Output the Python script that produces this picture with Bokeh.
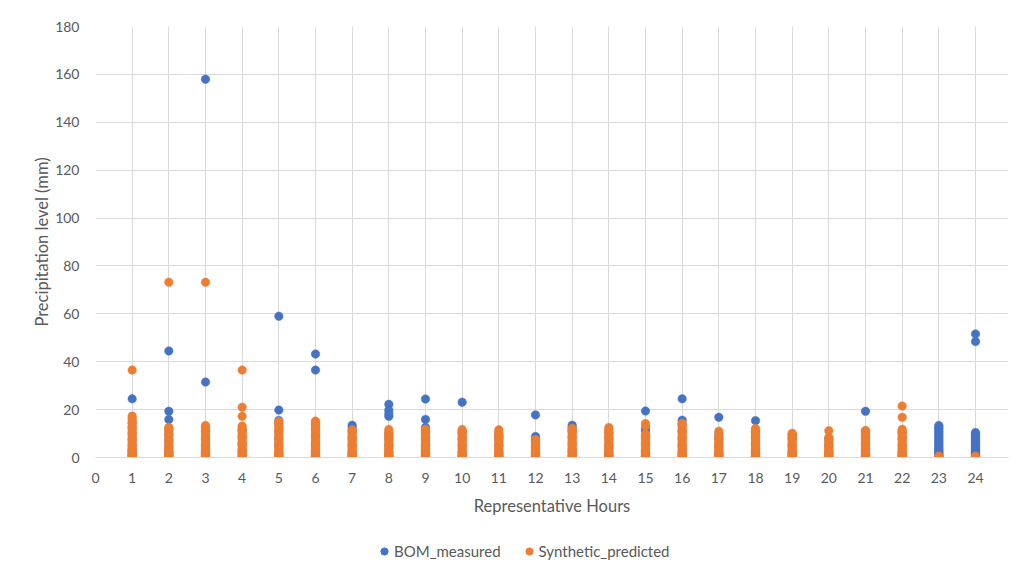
from bokeh.plotting import figure
from bokeh.layouts import column
from bokeh.models import ColumnDataSource, FixedTicker, Legend, LegendItem, Range1d
from bokeh.embed import file_html
from bokeh.resources import INLINE

# ---------------- data ----------------
hours = list(range(1, 25))
x_tick_labels = list(range(0, 25))
y_ticks = list(range(0, 181, 20))

bom_by_hour = [
    [0.2, 1.5, 3, 5, 7.5, 10, 12.5, 14.5, 24.5],
    [0.3, 2, 4.5, 7, 9.5, 12, 15.9, 19.3, 44.5],
    [0.2, 2, 5, 8, 11, 31.5, 158],
    [0.3, 2.5, 5.5, 8.5, 11.5],
    [0.2, 2, 5, 8, 11, 14, 15.5, 19.8, 59],
    [0.3, 2.5, 5.5, 9, 12, 14, 36.5, 43.2],
    [0.2, 2, 5, 8, 11, 12.5, 13.5],
    [0.3, 2, 5, 8, 9.6, 17.2, 18.2, 19.7, 22.2],
    [0.2, 2.5, 5, 8, 10.5, 12.5, 15.9, 24.4],
    [0.3, 2, 5, 8, 10.5, 23.1],
    [0.2, 2, 5, 8, 9.2],
    [0.2, 2, 4.5, 7, 8.8, 17.8],
    [0.3, 2.5, 5.5, 8.5, 11, 12.5, 13.5],
    [0.2, 2, 5, 8, 10.5],
    [0.3, 2.5, 5.5, 8.5, 11, 12, 19.4],
    [0.2, 2, 5, 8, 11, 14, 15.6, 24.5],
    [0.3, 2, 5, 8, 10, 16.8],
    [0.2, 2.5, 5.5, 8.5, 10.5, 15.4],
    [0.3, 2, 5, 8, 9.5],
    [0.2, 2, 5, 8],
    [0.3, 2.5, 5.5, 8.5, 11, 19.3],
    [0.2, 2, 5, 8, 10.5],
    [0, 0.4, 0.8, 1.2, 1.7, 2.2, 2.7, 3.3, 3.9, 4.5, 5.2, 5.9, 6.6, 7.3, 8, 8.7,
     9.4, 10.1, 10.8, 11.5, 12.2, 12.8, 13.4],
    [0, 0.4, 0.8, 1.2, 1.7, 2.2, 2.7, 3.3, 3.9, 4.5, 5.1, 5.7, 6.3, 6.9, 7.5, 8.1,
     8.7, 9.3, 9.9, 10.4, 48.4, 51.6],
]

syn_by_hour = [
    [0, 0.2, 0.5, 0.8, 1.2, 1.6, 2, 2.5, 3, 3.6, 4.2, 5, 5.8, 6.5, 7.4, 8.2, 9, 10,
     11, 12, 13, 14.2, 15.5, 16.4, 17.3, 36.5],
    [0, 0.3, 0.6, 1, 1.4, 1.9, 2.4, 3, 3.7, 4.4, 5.2, 6, 6.9, 7.8, 8.6, 9.5, 10.4,
     11.2, 12, 12.6, 73.2],
    [0, 0.2, 0.5, 0.9, 1.3, 1.8, 2.3, 3, 3.6, 4.3, 5, 5.8, 6.6, 7.5, 8.3, 9.2, 10,
     10.9, 11.8, 12.6, 13.4, 73.2],
    [0, 0.3, 0.7, 1.1, 1.6, 2.1, 2.7, 3.3, 4, 4.8, 5.6, 6.4, 7.3, 8.2, 9, 9.9, 10.8,
     11.6, 12.4, 13.2, 17.2, 21, 36.5],
    [0, 0.2, 0.5, 0.9, 1.4, 1.9, 2.5, 3.1, 3.8, 4.6, 5.4, 6.2, 7, 7.9, 8.8, 9.7,
     10.6, 11.5, 12.4, 13.3, 14.2, 15],
    [0, 0.3, 0.7, 1.1, 1.6, 2.2, 2.8, 3.5, 4.2, 5, 5.8, 6.6, 7.5, 8.4, 9.3, 10.2,
     11.1, 12, 12.9, 13.8, 14.6, 15.2],
    [0, 0.2, 0.5, 0.9, 1.3, 1.8, 2.4, 3, 3.7, 4.4, 5.2, 6, 6.8, 7.6, 8.4, 9.2, 10,
     10.8, 11.6],
    [0, 0.3, 0.6, 1, 1.5, 2, 2.6, 3.2, 3.9, 4.6, 5.4, 6.2, 7, 7.8, 8.6, 9.4, 10.2,
     11, 11.7],
    [0, 0.2, 0.5, 0.9, 1.3, 1.8, 2.3, 2.9, 3.5, 4.2, 5, 5.8, 6.6, 7.4, 8.2, 9, 9.8,
     10.6, 11.3, 11.8],
    [0, 0.3, 0.6, 1, 1.5, 2, 2.6, 3.3, 4, 4.8, 5.6, 6.4, 7.2, 8, 8.8, 9.6, 10.4,
     11.1, 11.7],
    [0, 0.2, 0.5, 0.9, 1.3, 1.8, 2.4, 3, 3.7, 4.4, 5.1, 5.9, 6.7, 7.5, 8.3, 9.1,
     9.9, 10.7, 11.6],
    [0, 0.2, 0.5, 0.8, 1.2, 1.7, 2.2, 2.8, 3.4, 4, 4.7, 5.4, 6.1, 6.8, 7.5],
    [0, 0.3, 0.6, 1, 1.5, 2, 2.6, 3.2, 3.9, 4.6, 5.4, 6.2, 7, 7.8, 8.6, 9.4, 10.2,
     11, 11.6, 12.2],
    [0, 0.2, 0.5, 0.9, 1.4, 1.9, 2.5, 3.1, 3.8, 4.5, 5.3, 6.1, 6.9, 7.7, 8.5, 9.3,
     10.1, 10.9, 11.7, 12.5],
    [0, 0.3, 0.6, 1, 1.5, 2, 2.6, 3.2, 3.9, 4.6, 5.3, 6, 6.8, 7.6, 8.4, 9.2, 9.8,
     13.2, 14.2],
    [0, 0.3, 0.7, 1.1, 1.6, 2.1, 2.7, 3.3, 4, 4.7, 5.5, 6.3, 7.1, 7.9, 8.7, 9.5,
     10.3, 11.1, 11.9, 12.7, 13.5, 14.3],
    [0, 0.2, 0.5, 0.9, 1.3, 1.8, 2.3, 2.9, 3.5, 4.2, 4.9, 5.6, 6.3, 7, 7.7, 8.4, 9,
     11],
    [0, 0.3, 0.6, 1, 1.5, 2, 2.6, 3.2, 3.9, 4.6, 5.3, 6, 6.8, 7.6, 8.4, 9.2, 10,
     10.8, 11.5, 12.1],
    [0, 0.2, 0.5, 0.9, 1.3, 1.8, 2.3, 2.9, 3.5, 4.1, 4.8, 5.5, 6.2, 6.9, 7.6, 8.3,
     9, 9.6, 10.1],
    [0, 0.3, 0.6, 1, 1.4, 1.9, 2.4, 3, 3.6, 4.2, 4.9, 5.6, 6.3, 7, 7.7, 8.4, 11.2],
    [0, 0.2, 0.5, 0.9, 1.3, 1.8, 2.3, 2.9, 3.5, 4.2, 4.9, 5.6, 6.4, 7.2, 8, 8.8,
     9.6, 10.4, 11.3],
    [0, 0.3, 0.6, 1, 1.5, 2, 2.6, 3.2, 3.9, 4.6, 5.4, 6.2, 7, 7.8, 8.6, 9.4, 10.2,
     11, 11.8, 16.8, 21.5],
    [0, 0.3, 0.6],
    [0, 0.3, 0.6],
]

series_names = ["BOM_measured", "Synthetic_predicted"]
series_colors = ["#4472C4", "#ED7D31"]


def flatten(by_hour):
    xs, ys = [], []
    for h, vals in zip(hours, by_hour):
        for v in vals:
            xs.append(h)
            ys.append(v)
    return ColumnDataSource(dict(x=xs, y=ys))


TEXT = "#595959"
GRID = "#d9d9d9"
FONT = "Lato"
W = 1013

p = figure(
    width=W, height=528,
    x_range=Range1d(0, 24.9), y_range=Range1d(0, 180),
    output_backend="svg", toolbar_location=None,
    min_border_left=95, min_border_right=5, min_border_top=26, min_border_bottom=71,
)
p.outline_line_color = None
p.background_fill_color = "white"
p.border_fill_color = "white"

for by_hour, color in zip([bom_by_hour, syn_by_hour], series_colors):
    p.scatter("x", "y", source=flatten(by_hour), size=8.5,
              fill_color=color, line_color=color, line_width=0.5)

# axes
p.xaxis.ticker = FixedTicker(ticks=x_tick_labels)
p.yaxis.ticker = FixedTicker(ticks=y_ticks)
for ax in (p.xaxis[0], p.yaxis[0]):
    ax.major_tick_line_color = None
    ax.minor_tick_line_color = None
    ax.major_label_text_color = TEXT
    ax.major_label_text_font = FONT
    ax.major_label_text_font_size = "14px"
    ax.axis_label_text_color = TEXT
    ax.axis_label_text_font = FONT
    ax.axis_label_text_font_size = "16.5px"
    ax.axis_label_text_font_style = "normal"
p.yaxis.axis_line_color = None
p.xaxis.axis_line_color = GRID
p.xaxis.axis_label = "Representative Hours"
p.yaxis.axis_label = "Precipitation level (mm)"
p.xaxis.major_label_standoff = 9
p.yaxis.major_label_standoff = 10
p.xaxis.axis_label_standoff = 10
p.yaxis.axis_label_standoff = 0

p.xgrid.ticker = FixedTicker(ticks=x_tick_labels)
p.ygrid.ticker = FixedTicker(ticks=y_ticks)
p.xgrid.grid_line_color = GRID
p.ygrid.grid_line_color = GRID

# legend strip below the chart (swatch renderers sit outside its visible range)
lg = figure(width=W, height=36, output_backend="svg", toolbar_location=None,
            x_range=Range1d(0, 1), y_range=Range1d(0, 1), min_border=0)
lg.axis.visible = False
lg.grid.visible = False
lg.outline_line_color = None
lg.border_fill_color = "white"
lg.background_fill_color = "white"
swatches = [lg.scatter(x=[-5], y=[-5], size=8, fill_color=c, line_color=c)
            for c in series_colors]
legend = Legend(
    items=[LegendItem(label=n, renderers=[r]) for n, r in zip(series_names, swatches)],
    orientation="horizontal", location=(280, 4),
    border_line_color=None, background_fill_alpha=0,
    glyph_width=18, glyph_height=18, label_standoff=1, spacing=19,
    label_text_font=FONT, label_text_font_size="15px", label_text_color=TEXT,
    margin=0, padding=2,
)
lg.add_layout(legend, "center")

layout = column(p, lg, spacing=0)
open("out.html", "w").write(file_html(layout, INLINE))
